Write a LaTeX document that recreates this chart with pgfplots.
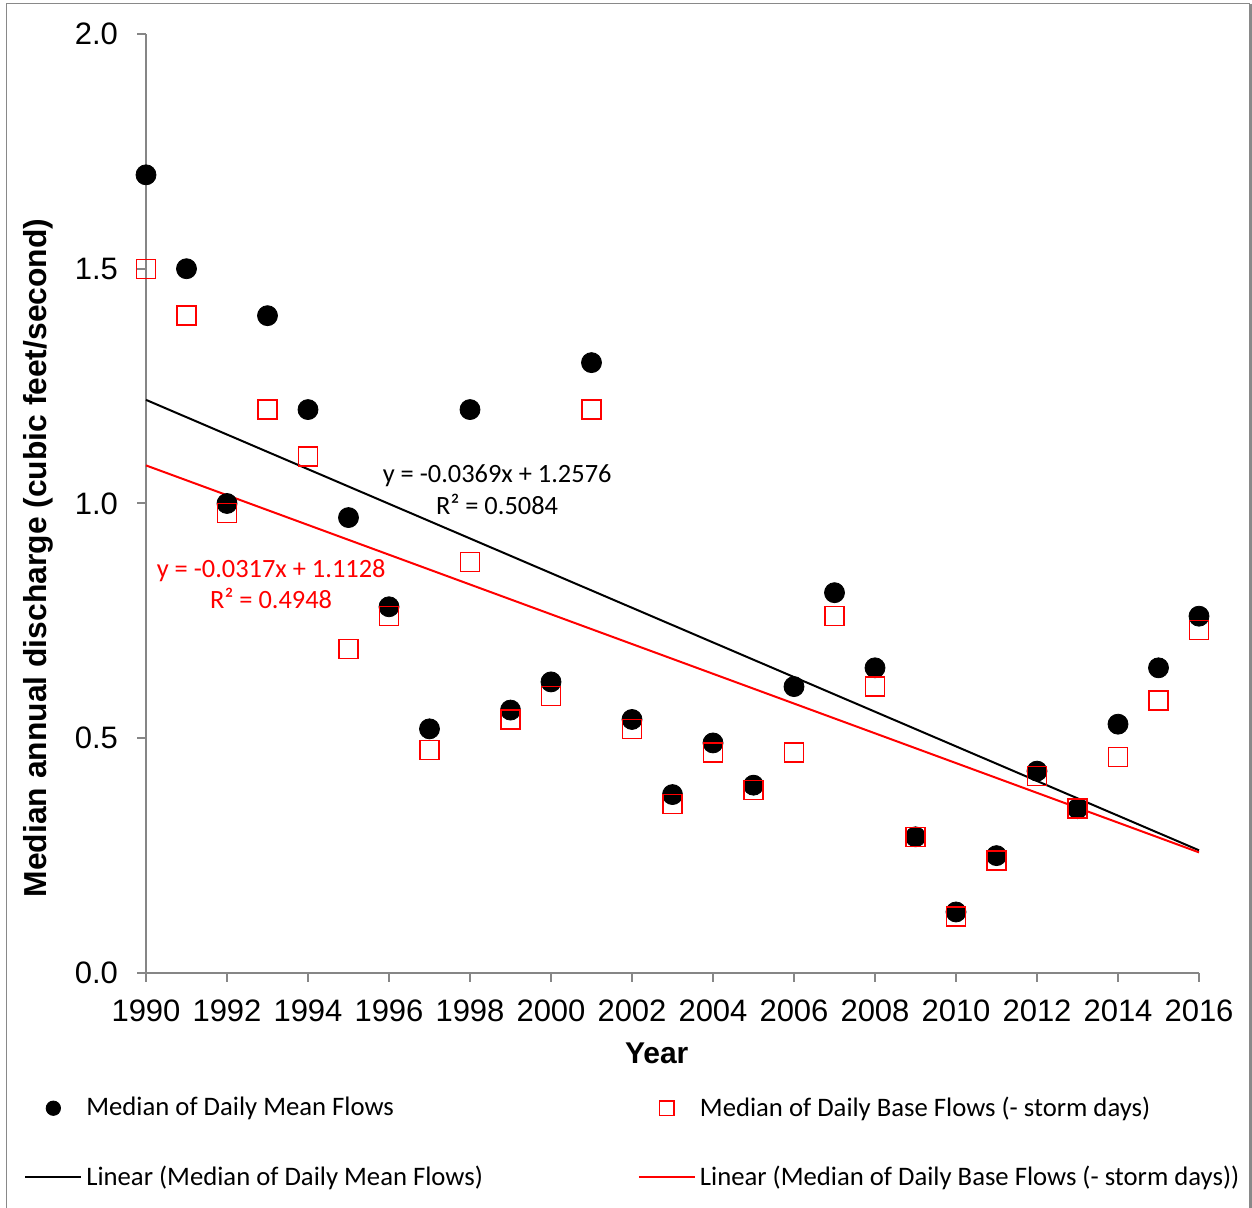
\documentclass[border=0pt]{standalone}
\usepackage{fontspec}
\setmainfont{Liberation Sans}
\newfontfamily\calibri{Carlito}
\usepackage{pgfplots}
\pgfplotsset{compat=1.18}
\definecolor{axgray}{RGB}{134,134,134}
\definecolor{fgray}{RGB}{137,137,137}
\pgfplotsset{
  markleg/.style={legend image code/.code={\draw[##1, mark size=3.6pt, mark repeat=2, mark phase=2] plot coordinates {(0pt,0pt) (14pt,0pt) (28pt,0pt)};}},
  lineleg/.style={legend image code/.code={\draw[##1] (0pt,0pt) -- (28pt,0pt);}},
}
\begin{document}
\begin{tikzpicture}
\useasboundingbox (0,0) rectangle (626pt,604pt);
\fill[white] (0,0) rectangle (626pt,604pt);
\draw[fgray, line width=0.8pt] (3.3pt,-5pt) -- (3.3pt,602.2pt) -- (625pt,602.2pt);
\draw[fgray, line width=1.5pt] (625pt,602.2pt) -- (625pt,-5pt);
\begin{axis}[
  at={(73pt,117.5pt)}, anchor=south west,
  scale only axis, width=526.5pt, height=469.5pt,
  xmin=1990, xmax=2016, ymin=0, ymax=2,
  axis x line*=bottom, axis y line*=left,
  axis line style={axgray, line width=1pt},
  xtick={1990,1992,...,2016},
  ytick={0,0.5,1,1.5,2},
  tick align=outside, major tick length=4.5pt,
  tick style={axgray, line width=1pt},
  minor tick num=0,
  clip=false,
  /pgf/number format/assume math mode=true,
  xticklabel style={/pgf/number format/1000 sep={}, font=\fontsize{15.5}{18}\selectfont, yshift=-5.5pt},
  yticklabel style={/pgf/number format/fixed, /pgf/number format/fixed zerofill, /pgf/number format/precision=1, font=\fontsize{15.5}{18}\selectfont, xshift=-6pt},
  xlabel={Year},
  xlabel style={font=\bfseries\fontsize{15}{18}\selectfont, at={(axis description cs:0.485,-0.0852)}, anchor=center},
  ylabel={Median annual discharge (cubic feet/second)},
  ylabel style={font=\bfseries\fontsize{15.9}{18}\selectfont, at={(axis description cs:-0.1026,0.442)}, anchor=center},
  legend columns=2,
  legend cell align=left,
  legend style={font=\calibri\fontsize{13.35}{16}\selectfont, draw=none, fill=none,
    at={(axis description cs:-0.1159,-0.1805)}, anchor=west, inner sep=0pt,
    row sep=19pt, /tikz/every even column/.append style={column sep=75.5pt}},
]
\addplot[only marks, mark=*, mark size=5pt, black, fill=black, markleg]
coordinates {
(1990,1.70) (1991,1.50) (1992,1.00) (1993,1.40) (1994,1.20) (1995,0.97)
(1996,0.78) (1997,0.52) (1998,1.20) (1999,0.56) (2000,0.62) (2001,1.30)
(2002,0.54) (2003,0.38) (2004,0.49) (2005,0.40) (2006,0.61) (2007,0.81)
(2008,0.65) (2009,0.29) (2010,0.13) (2011,0.25) (2012,0.43) (2013,0.35)
(2014,0.53) (2015,0.65) (2016,0.76)
};
\addlegendentry{Median of Daily Mean Flows}
\addplot[only marks, mark=square, mark size=4.75pt, red, line width=0.7pt, markleg]
coordinates {
(1990,1.50) (1991,1.40) (1992,0.98) (1993,1.20) (1994,1.10) (1995,0.69)
(1996,0.76) (1997,0.475) (1998,0.875) (1999,0.54) (2000,0.59) (2001,1.20)
(2002,0.52) (2003,0.36) (2004,0.47) (2005,0.39) (2006,0.47) (2007,0.76)
(2008,0.61) (2009,0.29) (2010,0.12) (2011,0.24) (2012,0.42) (2013,0.35)
(2014,0.46) (2015,0.58) (2016,0.73)
};
\addlegendentry{Median of Daily Base Flows (- storm days)}
\addplot[black, line width=1pt, lineleg]
coordinates {(1990,1.2207) (2016,0.2613)};
\addlegendentry{Linear (Median of Daily Mean Flows)}
\addplot[red, line width=1pt, lineleg]
coordinates {(1990,1.0811) (2016,0.2569)};
\addlegendentry{Linear (Median of Daily Base Flows (- storm days))}
\node[font=\calibri\fontsize{13.2}{15.75}\selectfont, align=center] at (axis cs:1998.67,1.029) {y = -0.0369x + 1.2576\\R² = 0.5084};
\node[red, font=\calibri\fontsize{13.2}{15.75}\selectfont, align=center] at (axis cs:1993.09,0.8285) {y = -0.0317x + 1.1128\\R² = 0.4948};
\end{axis}
\end{tikzpicture}
\end{document}
